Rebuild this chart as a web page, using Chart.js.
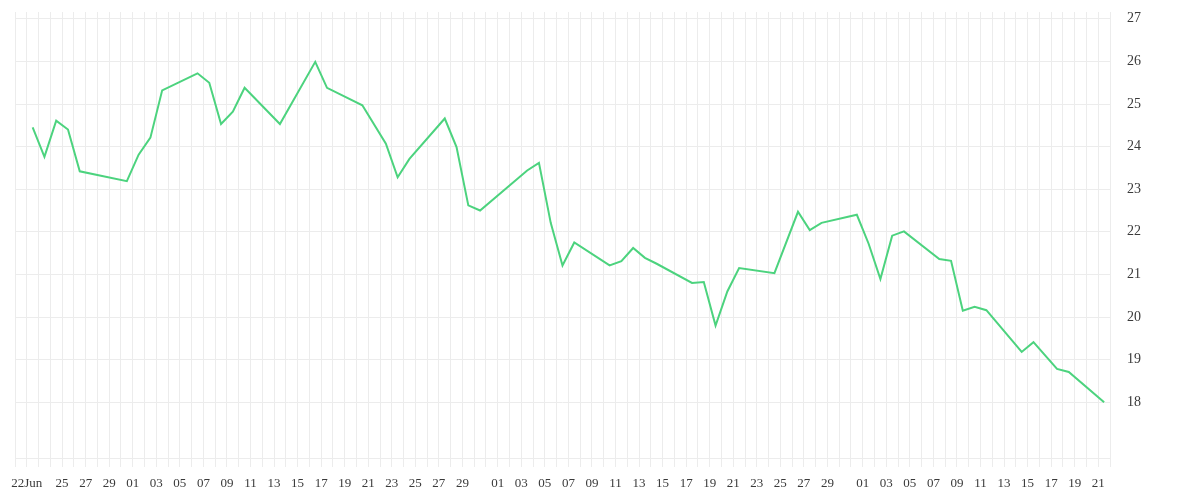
<!DOCTYPE html>
<html>
<head>
<meta charset="utf-8">
<script src="https://cdn.jsdelivr.net/npm/chart.js@4.4.1/dist/chart.umd.min.js"></script>
<style>
  html, body { margin: 0; padding: 0; background: #fff; }
  #wrap { width: 1200px; height: 500px; }
</style>
</head>
<body>
<div id="wrap"><canvas id="chart" width="1200" height="500"></canvas></div>
<script>
// price series (2020, trading days only)
const dates = [
  '06-22', '06-23', '06-24', '06-25', '06-26', '06-30',
  '07-01', '07-02', '07-03', '07-06', '07-07', '07-08', '07-09', '07-10',
  '07-13', '07-16', '07-17', '07-20', '07-22', '07-23', '07-24',
  '07-27', '07-28', '07-29', '07-30',
  '08-03', '08-04', '08-05', '08-06', '08-07', '08-10', '08-11', '08-12', '08-13', '08-14',
  '08-17', '08-18', '08-19', '08-20', '08-21', '08-24', '08-26', '08-27', '08-28',
  '08-31', '09-01', '09-02', '09-03', '09-04', '09-07', '09-08', '09-09', '09-10', '09-11',
  '09-14', '09-15', '09-17', '09-18', '09-21'
];
const prices = [
  24.45, 23.76, 24.61, 24.40, 23.42, 23.19,
  23.81, 24.21, 25.32, 25.72, 25.50, 24.53, 24.82, 25.38,
  24.53, 25.99, 25.38, 24.97, 24.07, 23.28, 23.71,
  24.66, 23.99, 22.62, 22.50,
  23.44, 23.62, 22.21, 21.21, 21.75, 21.21, 21.31, 21.62, 21.39, 21.25,
  20.80, 20.82, 19.80, 20.60, 21.15, 21.03, 22.47, 22.04, 22.21,
  22.40, 21.72, 20.89, 21.91, 22.01, 21.36, 21.32, 20.15, 20.24, 20.16,
  19.18, 19.41, 18.78, 18.71, 18.00
];

// labelled ticks on the date axis
const xTickDates = [
  '06-22', '06-25', '06-27', '06-29',
  '07-01', '07-03', '07-05', '07-07', '07-09', '07-11', '07-13', '07-15',
  '07-17', '07-19', '07-21', '07-23', '07-25', '07-27', '07-29',
  '08-01', '08-03', '08-05', '08-07', '08-09', '08-11', '08-13', '08-15',
  '08-17', '08-19', '08-21', '08-23', '08-25', '08-27', '08-29',
  '09-01', '09-03', '09-05', '09-07', '09-09', '09-11', '09-13', '09-15',
  '09-17', '09-19', '09-21'
];
const xTickLabels = xTickDates.map((d, i) => i === 0 ? '22Jun' : d.slice(3));
const yTicks = [18, 19, 20, 21, 22, 23, 24, 25, 26, 27];

const START = Date.UTC(2020, 5, 21);
const dayIndex = s => {
  const [m, d] = s.split('-').map(Number);
  return (Date.UTC(2020, m - 1, d) - START) / 86400000;
};
const LAST_DAY = 93;

const tickText = {};
xTickDates.forEach((d, i) => { tickText[dayIndex(d)] = xTickLabels[i]; });

// points sit half a day past the midnight grid line
const points = dates.map((d, i) => ({ x: dayIndex(d) + 0.5, y: prices[i] }));

const gridColor = '#ececec';
const textColor = '#3a3a3a';

new Chart(document.getElementById('chart'), {
  type: 'line',
  data: {
    datasets: [{
      data: points,
      borderColor: '#4cd37e',
      borderWidth: 2,
      pointRadius: 0,
      tension: 0,
      fill: false
    }]
  },
  options: {
    responsive: false,
    animation: false,
    layout: { padding: { left: 15, top: 12, right: 0, bottom: 0 } },
    plugins: { legend: { display: false }, tooltip: { enabled: false } },
    scales: {
      x: {
        type: 'linear',
        min: 0,
        max: LAST_DAY,
        afterBuildTicks: s => {
          const t = [];
          for (let i = 0; i <= LAST_DAY; i++) t.push({ value: i });
          s.ticks = t;
        },
        afterFit: s => { s.height = 42; },
        grid: { color: gridColor, lineWidth: 1, drawTicks: true, tickLength: 9 },
        border: { display: true, color: gridColor },
        ticks: {
          autoSkip: false,
          maxRotation: 0,
          padding: 9,
          color: textColor,
          font: { family: 'Liberation Serif', size: 13 },
          callback: v => tickText[v] || ''
        }
      },
      y: {
        position: 'right',
        min: 16.69,
        max: 27.16,
        afterBuildTicks: s => { s.ticks = yTicks.map(v => ({ value: v })); },
        afterFit: s => {
          s.width = 90;
          s.paddingTop = 0;
          s.paddingBottom = 0;
        },
        grid: { color: gridColor, lineWidth: 1, drawTicks: false },
        border: { display: false },
        ticks: {
          padding: 17,
          color: textColor,
          font: { family: 'Liberation Serif', size: 14 }
        }
      }
    }
  }
});
</script>
</body>
</html>
